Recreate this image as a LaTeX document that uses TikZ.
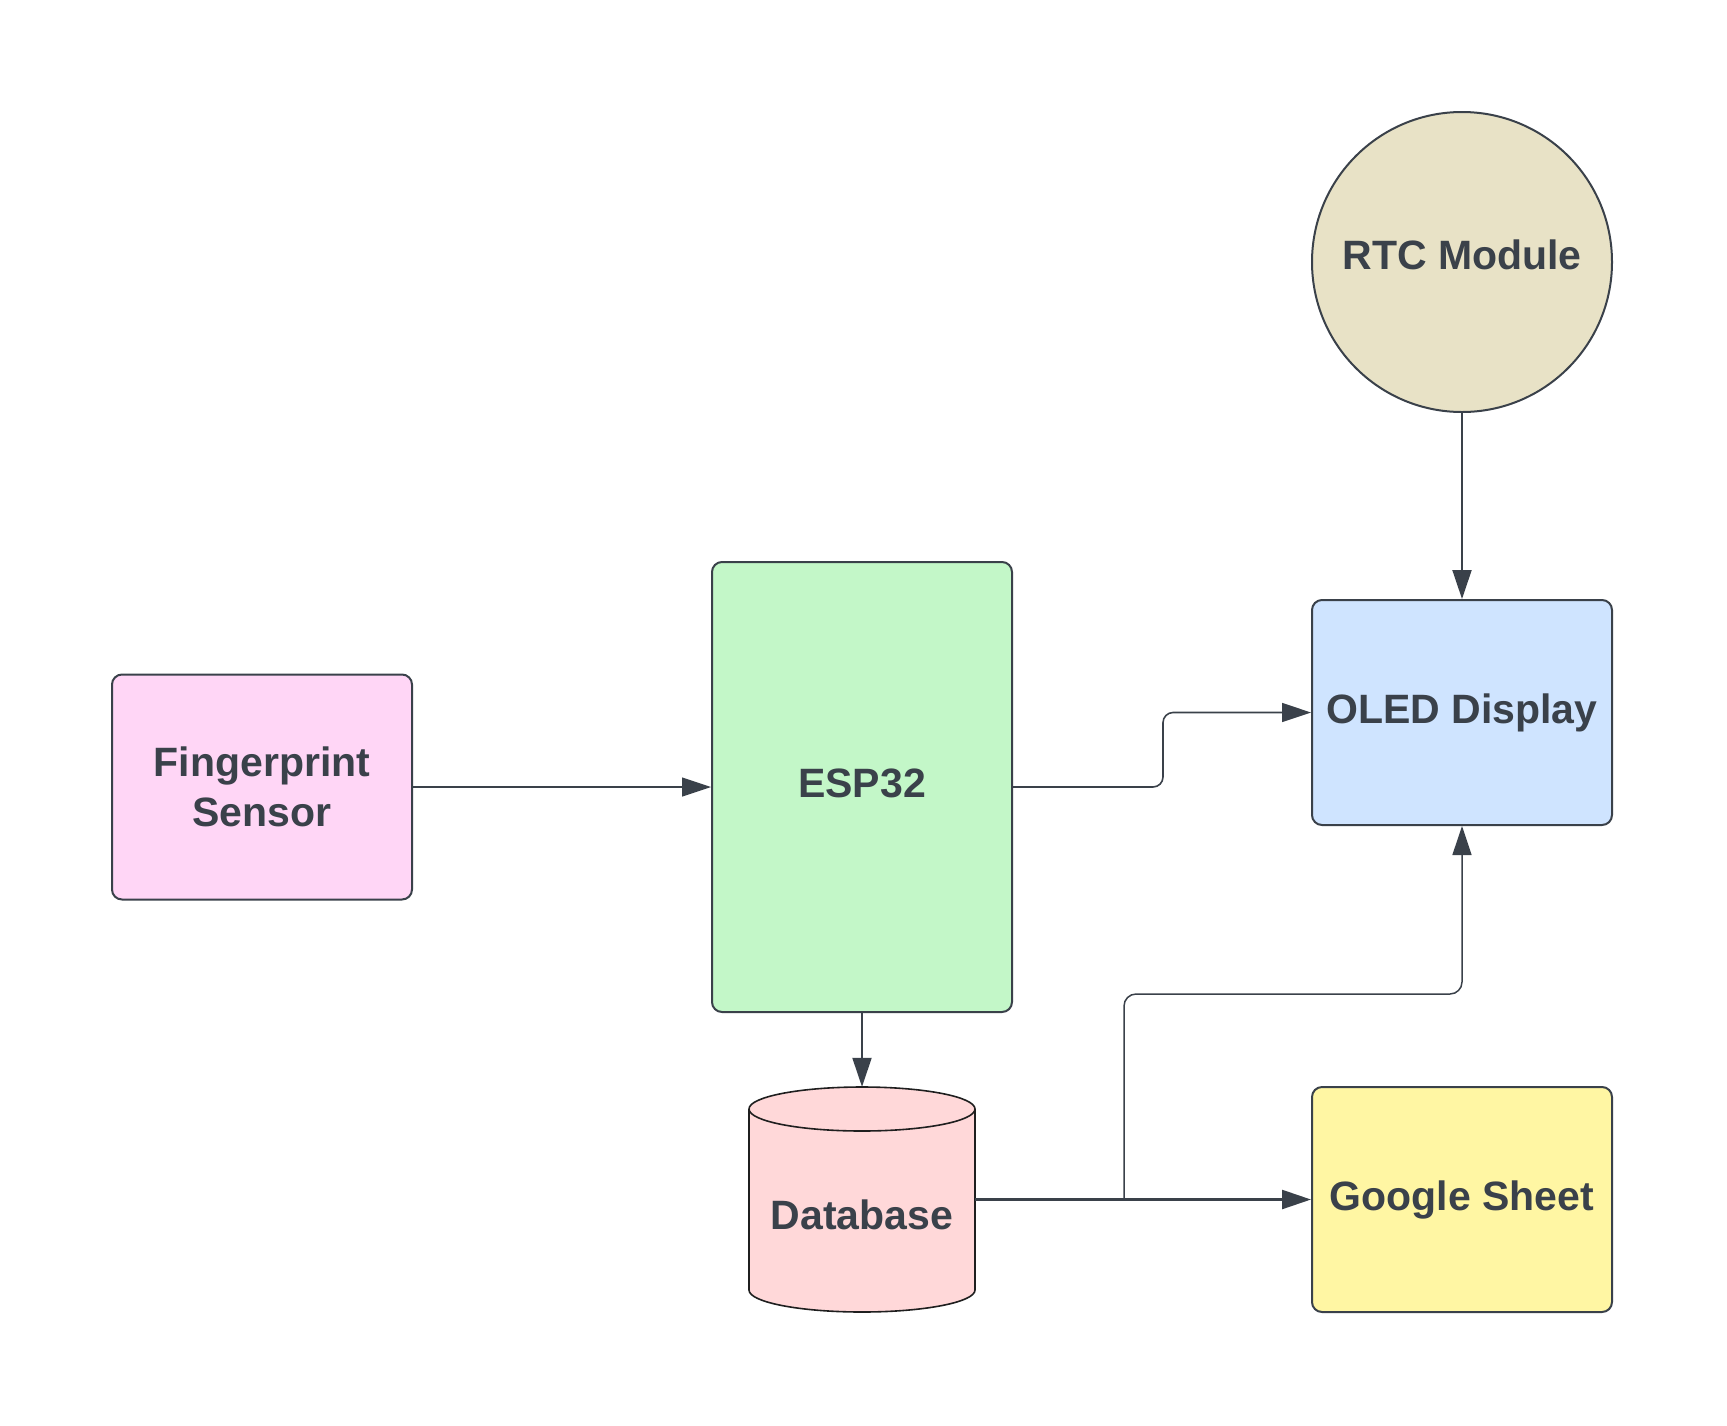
\documentclass[tikz,border=0pt]{standalone}
\usepackage{fontspec}
\setmainfont{Liberation Sans}
\usetikzlibrary{arrows.meta,calc}
\definecolor{ink}{HTML}{3A414A}
\definecolor{fpfill}{HTML}{FFD6F6}
\definecolor{espfill}{HTML}{C3F7C8}
\definecolor{oledfill}{HTML}{CFE4FF}
\definecolor{gsfill}{HTML}{FFF6A3}
\definecolor{dbfill}{HTML}{FFD8D9}
\definecolor{rtcfill}{HTML}{E8E2C6}
\definecolor{dbline}{HTML}{1F1F1F}
\begin{document}
\begin{tikzpicture}[x=1pt,y=1pt,
  lbl/.style={font=\fontsize{41}{50}\selectfont\bfseries, text=ink, align=center},
  box/.style={lbl, draw=ink, line width=2pt, rounded corners=10pt, minimum width=300pt, minimum height=225pt, inner sep=0pt},
  conn/.style={draw=ink, line width=1.8pt, -{Triangle[length=29pt,width=19pt]}},
  cyl/.style={draw=dbline, line width=1.6pt}]
\useasboundingbox (0,0) rectangle (1727,-1425);
% nodes
\node[box, fill=fpfill] (fp) at (262,-787) {Fingerprint\\Sensor};
\node[box, fill=espfill, minimum height=450pt] (esp) at (862,-787) {\raisebox{-10pt}[0pt][0pt]{ESP32}};
\node[box, fill=oledfill] (oled) at (1462,-712.5) {\raisebox{-10.5pt}[0pt][0pt]{OLED Display}};
\node[box, fill=gsfill] (gs) at (1462,-1199.5) {\raisebox{-10.5pt}[0pt][0pt]{Google Sheet}};
\node[lbl, circle, draw=ink, line width=2pt, fill=rtcfill, minimum size=300pt, inner sep=0pt] (rtc) at (1462,-262) {\raisebox{-7pt}[0pt][0pt]{RTC Module}};
% database cylinder
\fill[dbfill] (749,-1109) -- (749,-1290) arc[start angle=180, end angle=360, x radius=113pt, y radius=22pt] -- (975,-1109) arc[start angle=0, end angle=180, x radius=113pt, y radius=22pt] -- cycle;
\draw[cyl] (749,-1109) -- (749,-1290) arc[start angle=180, end angle=360, x radius=113pt, y radius=22pt] -- (975,-1109);
\draw[cyl] (862,-1109) ellipse [x radius=113pt, y radius=22pt];
\node[lbl, minimum width=226pt, minimum height=225pt, inner sep=0pt] (db) at (862,-1199.5) {\raisebox{-30pt}[0pt][0pt]{Database}};
% connectors
\draw[conn, line width=1.3pt] (fp) -- (esp);
\draw[conn, line width=1.6pt, rounded corners=10pt] (esp.east) -- ++(150,0) |- (oled.west);
\draw[conn, line width=2pt] (rtc) -- (oled);
\draw[conn, line width=2pt] (esp) -- (db);
\draw[conn, line width=2.4pt] (db.east) -- (gs.west);
\coordinate (br) at (1124,-1199.5);
\draw[conn, line width=1.5pt, rounded corners=12pt] (br) |- ([yshift=-168pt]oled.south) -- (oled.south);
\end{tikzpicture}
\end{document}
